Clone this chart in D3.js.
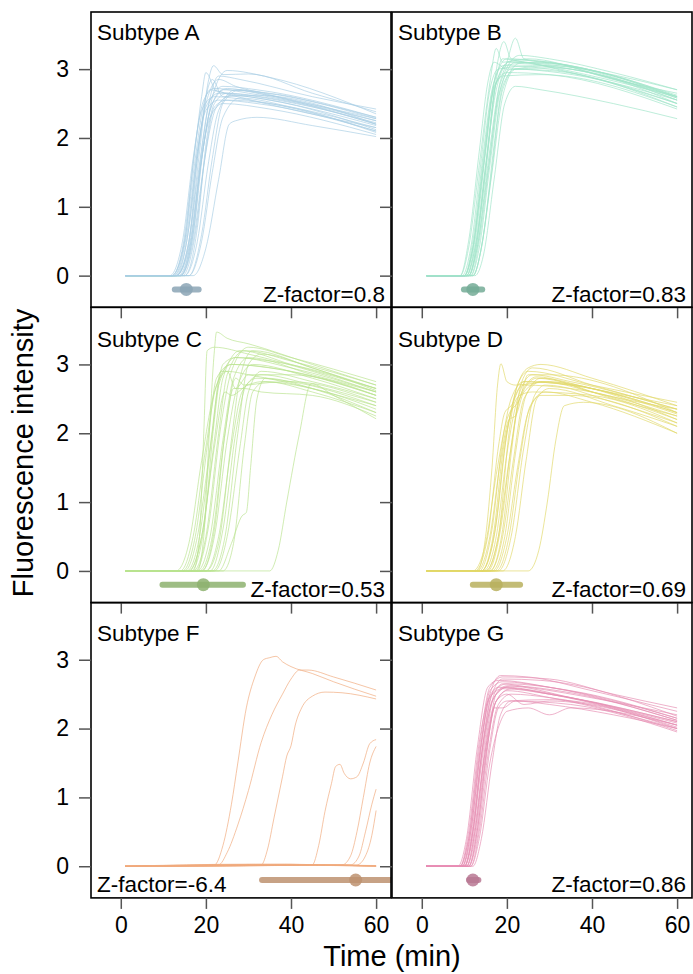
<!DOCTYPE html>
<html>
<head>
<meta charset="utf-8">
<script src="https://cdn.jsdelivr.net/npm/d3@7"></script>
<style>
  html, body { margin: 0; padding: 0; background: #fff; }
  svg { display: block; font-family: "Liberation Sans", Arial, sans-serif; }
</style>
</head>
<body>
<svg id="chart" width="693" height="974"></svg>
<script>
// ---------------- DATA ----------------
const subtypes = ["Subtype A", "Subtype B", "Subtype C", "Subtype D", "Subtype F", "Subtype G"];
const zFactors = ["Z-factor=0.8", "Z-factor=0.83", "Z-factor=0.53", "Z-factor=0.69", "Z-factor=-6.4", "Z-factor=0.86"];
const xTicks = [0, 20, 40, 60];
const yTicks = [0, 1, 2, 3];
const onsetMean = [15.4, 12.0, 19.4, 17.5, 55.2, 12.0];
const onsetLow  = [12.7,  9.9,  9.8, 12.0, 33.2, 11.1];
const onsetHigh = [18.3, 14.2, 28.7, 23.1, 75.0, 13.3];
const markerLevel = -0.2;

// curves: flat lists of (time, intensity) knots
const curvesA = [
  [1,0, 12,0, 14.5,0.4, 17,1.6, 19,2.6, 20,2.95, 22.5,2.68, 30,2.62, 45,2.45, 60,2.22],
  [1,0, 13,0, 16,0.5, 18.5,1.8, 20.5,2.8, 21.8,3.05, 24,2.92, 30,2.93, 45,2.65, 60,2.38],
  [1,0, 14,0, 17,0.6, 19.5,1.9, 22,2.7, 25,2.98, 35,2.88, 60,2.35],
  [1,0, 13,0, 16,0.5, 18,1.7, 20,2.5, 23,2.85, 27,2.75, 40,2.6, 60,2.3],
  [1,0, 12,0, 15,0.5, 17.5,1.9, 19.5,2.55, 22,2.72, 30,2.65, 60,2.25],
  [1,0, 12.5,0, 15.5,0.6, 18,1.8, 20,2.45, 23,2.65, 30,2.6, 60,2.18],
  [1,0, 13,0, 16,0.4, 18.5,1.5, 21,2.4, 24,2.7, 30,2.68, 60,2.28],
  [1,0, 14,0, 16.5,0.5, 19,1.7, 21.5,2.5, 25,2.72, 32,2.65, 60,2.2],
  [1,0, 14.5,0, 17.5,0.6, 20,1.8, 22.5,2.45, 26,2.62, 35,2.55, 60,2.12],
  [1,0, 11.5,0, 14.5,0.5, 17,1.7, 19,2.4, 22,2.6, 30,2.55, 60,2.1],
  [1,0, 15,0, 18,0.5, 20.5,1.6, 23,2.4, 27,2.7, 35,2.62, 60,2.25],
  [1,0, 16,0, 19,0.5, 21.5,1.5, 24,2.3, 28,2.58, 40,2.45, 60,2.15],
  [1,0, 17,0, 20,0.4, 23,1.4, 25.5,2.2, 27,2.25, 32,2.3, 45,2.18, 60,2.02],
  [1,0, 13.5,0, 16.5,0.5, 19,1.8, 21,2.55, 24,2.75, 32,2.7, 60,2.3],
  [1,0, 12,0, 15,0.5, 17.5,1.7, 19.5,2.5, 21,2.7, 26,2.62, 60,2.15],
  [1,0, 14,0, 17,0.5, 19.5,1.6, 22,2.45, 25,2.55, 35,2.5, 60,2.08],
  [1,0, 15,0, 18,0.7, 20,1.9, 22,2.5, 25,2.65, 35,2.58, 60,2.2],
  [1,0, 13,0, 15.5,0.3, 18,1.4, 20.5,2.45, 23,2.9, 28,2.85, 45,2.6, 60,2.42],
  [1,0, 12.5,0, 15.5,0.5, 18,1.7, 20,2.6, 21.5,2.85, 24,2.6, 32,2.62, 60,2.2],
  [1,0, 16,0, 19,0.6, 21.5,1.7, 24,2.5, 28,2.7, 40,2.55, 60,2.28],
  [1,0, 14,0, 17,0.6, 19,1.7, 21,2.3, 24,2.5, 35,2.42, 60,2.05],
  [1,0, 13,0, 16,0.7, 18,1.8, 20,2.4, 23,2.55, 32,2.5, 60,2.1]
];
const curvesB = [
  [1,0, 9,0, 11,0.4, 13.5,1.6, 16,2.8, 17.5,3.3, 19,3.1, 25,3.15, 40,2.95, 60,2.6],
  [1,0, 10,0, 12,0.4, 14.5,1.6, 17,2.8, 19.3,3.4, 21,3.15, 30,3.1, 60,2.55],
  [1,0, 11,0, 13,0.4, 15.5,1.6, 18,2.7, 20,3.1, 22,3.45, 24,3.15, 35,3.05, 60,2.6],
  [1,0, 10,0, 12,0.5, 14.5,1.8, 16.5,2.7, 19,3.05, 28,3.1, 45,2.85, 60,2.65],
  [1,0, 10.5,0, 12.5,0.4, 15,1.6, 17.5,2.7, 20,3.05, 30,3.0, 60,2.5],
  [1,0, 11,0, 13,0.4, 15.5,1.5, 18,2.6, 21,3.0, 30,2.98, 60,2.45],
  [1,0, 9.5,0, 11.5,0.4, 14,1.7, 16,2.7, 18,3.0, 26,3.05, 60,2.55],
  [1,0, 12,0, 14,0.4, 16.5,1.5, 19,2.6, 22,3.0, 30,3.05, 60,2.6],
  [1,0, 12.5,0, 14.5,0.3, 17,1.4, 19.5,2.5, 22,2.75, 28,2.7, 45,2.5, 60,2.28],
  [1,0, 11.5,0, 13.5,0.4, 16,1.6, 18.5,2.7, 22,3.1, 32,3.05, 60,2.7],
  [1,0, 10,0, 12,0.4, 14.5,1.7, 17,2.8, 20,3.15, 30,3.1, 60,2.62],
  [1,0, 11,0, 13,0.5, 15,1.6, 17.5,2.8, 21,3.12, 35,2.95, 60,2.5],
  [1,0, 12,0, 14,0.4, 16,1.3, 19,2.7, 23,3.08, 35,3.0, 60,2.58],
  [1,0, 10.5,0, 12.5,0.5, 15,1.8, 17,2.75, 20,2.95, 30,2.92, 60,2.42],
  [1,0, 9,0, 11,0.5, 13.5,1.8, 15.5,2.8, 17,3.1, 20,3.0, 30,3.02, 60,2.5],
  [1,0, 11.5,0, 13.5,0.5, 16,1.7, 18.5,2.8, 23,3.2, 30,3.15, 45,2.95, 60,2.7],
  [1,0, 10,0, 12,0.4, 14.5,1.6, 16.5,2.6, 19,2.9, 28,2.92, 60,2.45],
  [1,0, 12,0, 14.5,0.6, 17,1.9, 19,2.75, 22,3.0, 32,2.95, 60,2.55],
  [1,0, 10.5,0, 12.5,0.4, 15,1.5, 17.5,2.8, 20.5,3.1, 30,3.08, 60,2.58],
  [1,0, 11,0, 13,0.5, 15.5,1.8, 17.5,2.85, 19,3.15, 24,3.1, 60,2.6]
];
const curvesC = [
  [1,0, 17,0, 18.5,0.5, 19.5,2.0, 20.3,3.2, 22,3.25, 30,3.15, 45,2.9, 60,2.6],
  [1,0, 18,0, 19.5,0.5, 20.8,2.0, 22,3.2, 22.5,3.47, 25,3.38, 30,3.3, 45,3.0, 60,2.7],
  [1,0, 13,0, 16,0.4, 19,1.6, 22,2.6, 25,2.9, 30,2.85, 60,2.4],
  [1,0, 14,0, 17,0.5, 20,1.8, 22.5,2.7, 26,3.0, 35,2.95, 60,2.55],
  [1,0, 15,0, 18,0.5, 21,1.8, 23,2.7, 27,3.1, 35,3.05, 60,2.65],
  [1,0, 15.5,0, 18.5,0.5, 21.5,2.0, 23.5,2.9, 25,2.9, 27,2.65, 30,2.85, 40,2.85, 60,2.55],
  [1,0, 16,0, 19,0.5, 22,1.9, 24,2.8, 28,3.2, 40,3.0, 60,2.65],
  [1,0, 17,0, 20,0.5, 23,2.0, 25,2.85, 29,3.2, 40,3.05, 60,2.7],
  [1,0, 17.5,0, 20.5,0.6, 23.5,2.1, 26,2.9, 30,3.25, 40,3.1, 60,2.75],
  [1,0, 18,0, 21,0.5, 24,1.9, 26.5,2.8, 30,3.1, 45,2.85, 60,2.6],
  [1,0, 19,0, 22,0.5, 25,1.9, 27.5,2.7, 31,3.0, 45,2.8, 60,2.5],
  [1,0, 20,0, 23,0.5, 26,1.8, 28.5,2.6, 32,2.8, 40,2.75, 60,2.4],
  [1,0, 21,0, 24,0.6, 27,2.0, 29.5,2.7, 33,2.85, 45,2.7, 60,2.45],
  [1,0, 22,0, 25,0.5, 28,1.8, 30,2.6, 33,2.9, 45,2.75, 60,2.5],
  [1,0, 23,0, 26,0.4, 28.5,0.8, 29.5,0.85, 30.5,1.5, 32,2.5, 34,2.8, 45,2.65, 60,2.3],
  [1,0, 16,0, 19,0.5, 22,1.8, 24.5,2.6, 26,2.55, 30,2.7, 40,2.75, 60,2.45],
  [1,0, 18.5,0, 21.5,0.5, 24.5,2.0, 26.5,2.65, 29,2.65, 33,2.6, 45,2.55, 60,2.25],
  [1,0, 35,0, 37,0.3, 39,1.0, 42,2.0, 44.7,2.72, 50,2.55, 60,2.21],
  [1,0, 14.5,0, 17.5,0.5, 20.5,1.9, 22.5,2.8, 26,3.0, 40,2.9, 60,2.55],
  [1,0, 20,0, 23,0.4, 26,1.9, 28,2.8, 31,3.2, 45,2.95, 60,2.65],
  [1,0, 16.5,0, 19.5,0.6, 22,2.2, 24,3.0, 27,3.1, 40,2.95, 60,2.6],
  [1,0, 19,0, 22,0.6, 24.5,2.0, 27,2.8, 29,2.7, 33,2.75, 45,2.65, 60,2.35],
  [1,0, 21.5,0, 24.5,0.5, 27.5,2.0, 30,3.0, 33,3.15, 45,2.95, 60,2.62],
  [1,0, 24,0, 26.5,0.4, 29,1.8, 31,2.6, 34,2.75, 45,2.6, 60,2.3]
];
const curvesD = [
  [1,0, 13,0, 15,0.5, 16.5,1.5, 17.8,2.7, 18.6,3.01, 20,2.75, 22,2.7, 30,2.75, 45,2.5, 60,2.25],
  [1,0, 12,0, 15,0.4, 17.5,1.4, 20,2.2, 23,2.5, 25,2.85, 30,2.85, 60,2.3],
  [1,0, 13,0, 16,0.5, 18.5,1.6, 20.5,2.2, 22,2.25, 24,2.6, 28,2.75, 60,2.2],
  [1,0, 14,0, 17,0.5, 19.5,1.8, 22,2.6, 25,2.95, 28,3.0, 40,2.8, 60,2.4],
  [1,0, 14.5,0, 17.5,0.5, 20,1.7, 22.5,2.5, 26,2.85, 35,2.75, 60,2.35],
  [1,0, 15,0, 18,0.5, 20.5,1.6, 23,2.5, 27,2.8, 35,2.72, 60,2.28],
  [1,0, 15.5,0, 18.5,0.6, 21,1.8, 23.5,2.6, 27,2.82, 40,2.6, 60,2.35],
  [1,0, 13.5,0, 16.5,0.6, 19,1.9, 21,2.5, 24,2.75, 35,2.7, 60,2.3],
  [1,0, 16,0, 19,0.5, 21.5,1.6, 24,2.5, 28,2.75, 40,2.6, 60,2.2],
  [1,0, 16.5,0, 19.5,0.5, 22,1.7, 24.5,2.55, 28,2.8, 40,2.65, 60,2.4],
  [1,0, 17,0, 20,0.5, 22.5,1.5, 25,2.3, 28,2.55, 35,2.55, 60,2.1],
  [1,0, 17.5,0, 20.5,0.5, 23,1.6, 25.5,2.4, 29,2.6, 40,2.45, 60,2.0],
  [1,0, 18,0, 21,0.5, 24,1.8, 26.5,2.55, 29,2.7, 45,2.45, 60,2.15],
  [1,0, 25,0, 27.5,0.3, 29.5,1.0, 31.5,1.9, 33.5,2.4, 38,2.45, 60,2.0],
  [1,0, 14,0, 17,0.6, 19,1.7, 21,2.3, 23,2.55, 26,2.6, 40,2.55, 60,2.15],
  [1,0, 15,0, 18,0.5, 20.5,2.0, 22.5,2.7, 25,2.9, 40,2.7, 60,2.45],
  [1,0, 12.5,0, 15.5,0.5, 18,1.8, 19.5,2.3, 21,2.4, 24,2.75, 35,2.7, 60,2.3],
  [1,0, 16,0, 19,0.6, 21,1.7, 23.5,2.75, 26,2.95, 40,2.7, 60,2.35],
  [1,0, 19,0, 22,0.5, 24.5,1.6, 27,2.5, 30,2.65, 45,2.4, 60,2.1],
  [1,0, 14,0, 17.5,0.7, 20,2.0, 22,2.55, 24,2.7, 35,2.65, 60,2.25]
];
const curvesF = [
  [1,0, 22,0.02, 24,0.3, 26,0.9, 27.5,1.5, 29.5,2.3, 31.5,2.75, 33.5,3.0, 35,3.03, 36.5,3.05, 38,2.97, 40,2.9, 45,2.8, 50,2.68, 60,2.47],
  [1,0, 23,0.02, 25,0.2, 27.5,0.6, 30,1.1, 33,1.8, 35.5,2.2, 38,2.5, 40,2.72, 42,2.85, 44,2.85, 50,2.75, 60,2.56],
  [1,0, 33,0.02, 34.5,0.25, 36,0.7, 38,1.3, 39,1.6, 40,1.75, 41,2.05, 42.5,2.3, 45,2.47, 48,2.53, 52,2.52, 60,2.43],
  [1,0, 45,0.02, 46.5,0.3, 48,0.8, 49.5,1.2, 50.5,1.45, 51.5,1.48, 52.5,1.35, 54,1.27, 55.5,1.3, 57,1.5, 58.5,1.78, 60,1.84],
  [1,0, 52,0.02, 54,0.15, 55.5,0.5, 57,1.0, 58.5,1.5, 60,1.74],
  [1,0, 54,0.02, 56,0.15, 57.5,0.5, 59,0.9, 60,1.12],
  [1,0, 55.5,0.02, 57.5,0.15, 59,0.45, 60,0.81],
  [1,0, 20,0.01, 35,0.02, 50,0.01, 60,0],
  [1,0, 22,0.02, 40,0.03, 55,0.01, 60,0.01],
  [1,0, 18,0.01, 30,0.02, 45,0.02, 60,0],
  [1,0, 25,0.02, 42,0.02, 60,0.01],
  [1,0, 20,0.0, 38,0.02, 60,0],
  [1,0, 30,0.03, 48,0.02, 60,0]
];
const curvesG = [
  [1,0, 9,0, 11,0.4, 13.5,1.6, 16,2.5, 18.5,2.77, 25,2.75, 40,2.55, 60,2.25],
  [1,0, 9.5,0, 11.5,0.4, 14,1.6, 16.5,2.5, 19,2.72, 28,2.7, 60,2.18],
  [1,0, 10,0, 12,0.5, 14.5,1.8, 17,2.45, 20,2.6, 30,2.5, 60,2.05],
  [1,0, 10.5,0, 12.5,0.5, 15,1.7, 17.5,2.4, 20,2.55, 30,2.45, 60,2.0],
  [1,0, 11,0, 13,0.4, 15.5,1.6, 18,2.35, 21,2.5, 30,2.45, 60,1.97],
  [1,0, 9,0, 11,0.5, 13.5,1.8, 15.5,2.4, 18,2.6, 30,2.5, 60,2.1],
  [1,0, 10,0, 12,0.4, 14.5,1.5, 17,2.3, 19,2.3, 22,2.4, 30,2.35, 45,2.2, 60,2.0],
  [1,0, 11.5,0, 13.5,0.4, 16,1.5, 18.5,2.1, 20,2.25, 25,2.3, 30,2.2, 35,2.3, 60,2.05],
  [1,0, 9.5,0, 11.5,0.5, 14,1.8, 16,2.55, 19,2.68, 30,2.6, 60,2.15],
  [1,0, 10,0, 12,0.5, 14.5,1.7, 16.5,2.4, 20,2.62, 35,2.45, 60,2.08],
  [1,0, 10.5,0, 12.5,0.4, 15,1.6, 17.5,2.4, 21,2.58, 35,2.45, 60,2.1],
  [1,0, 8.5,0, 10.5,0.4, 13,1.7, 15.5,2.6, 18,2.7, 30,2.6, 60,2.12],
  [1,0, 11,0, 13,0.5, 15.5,1.8, 17.5,2.4, 20,2.5, 24,2.35, 30,2.4, 60,2.02],
  [1,0, 12,0, 14,0.4, 16.5,1.5, 18.5,2.2, 21,2.4, 35,2.35, 60,1.95],
  [1,0, 9,0, 11,0.4, 13.5,1.7, 16,2.6, 19,2.75, 30,2.72, 45,2.5, 60,2.3],
  [1,0, 10,0, 12,0.5, 14,1.6, 16.5,2.5, 20,2.65, 35,2.55, 60,2.15],
  [1,0, 11,0, 13,0.5, 15,1.5, 17.5,2.5, 21,2.62, 32,2.55, 60,2.12],
  [1,0, 9.5,0, 11.5,0.5, 13.5,1.5, 16,2.45, 19,2.58, 30,2.5, 60,2.05],
  [1,0, 10.5,0, 12.5,0.5, 15,1.8, 17,2.5, 19,2.65, 25,2.6, 60,2.2],
  [1,0, 11.5,0, 13.5,0.5, 16,1.7, 18,2.3, 20,2.4, 30,2.42, 60,2.0]
];
const allCurves = [curvesA, curvesB, curvesC, curvesD, curvesF, curvesG];

// ---------------- STYLE ----------------
const lineColors = ["#a9cfe4", "#9fe4c9", "#b9e38f", "#e2d96a", "#f0aa7c", "#e68db2"];
const markerColors = ["#8ba5b5", "#74ab97", "#8db16e", "#b8b05e", "#bd9270", "#b87893"];

const svg = d3.select("#chart");
const colX = [91, 392];
const panelW = 300;
const rowY = [12, 307.3, 602.6];
const rowH = 295.3;
const titleBase = [40, 346.5, 641];
const FONT = '"Liberation Sans", Arial, sans-serif';

const line = d3.line().curve(d3.curveMonotoneX);

allCurves.forEach((curves, i) => {
  const c = i % 2, r = Math.floor(i / 2);
  const x0 = colX[c], y0 = rowY[r];
  const x = d3.scaleLinear().domain([-7, 63.5]).range([x0, x0 + panelW]);
  const y = d3.scaleLinear().domain([-0.46, 3.83]).range([y0 + rowH, y0]);

  const clipId = "clip" + i;
  svg.append("clipPath").attr("id", clipId)
    .append("rect").attr("x", x0).attr("y", y0).attr("width", panelW).attr("height", rowH);

  const g = svg.append("g").attr("clip-path", `url(#${clipId})`);

  curves.forEach(flat => {
    const pts = [];
    for (let k = 0; k < flat.length; k += 2) pts.push([x(flat[k]), y(flat[k + 1])]);
    g.append("path").attr("d", line(pts))
      .attr("fill", "none")
      .attr("stroke", lineColors[i])
      .attr("stroke-width", 1)
      .attr("stroke-opacity", 0.68);
  });

  // onset marker (range bar + mean dot)
  g.append("line")
    .attr("x1", x(onsetLow[i])).attr("x2", x(onsetHigh[i]))
    .attr("y1", y(markerLevel)).attr("y2", y(markerLevel))
    .attr("stroke", markerColors[i]).attr("stroke-width", 6)
    .attr("stroke-linecap", "round").attr("stroke-opacity", 0.85);
  g.append("circle")
    .attr("cx", x(onsetMean[i])).attr("cy", y(markerLevel)).attr("r", 6.5)
    .attr("fill", markerColors[i]).attr("fill-opacity", 0.85);

  // frame
  svg.append("rect").attr("x", x0).attr("y", y0).attr("width", panelW).attr("height", rowH)
    .attr("fill", "none").attr("stroke", "#000").attr("stroke-width", 1.6);

  // y axis
  const yAxis = d3.axisLeft(y).tickValues(yTicks).tickSize(12).tickPadding(10)
    .tickFormat(c === 0 ? d3.format("d") : () => "");
  const ya = svg.append("g").attr("transform", `translate(${x0},0)`).call(yAxis);
  ya.select(".domain").remove();
  ya.selectAll(".tick line").attr("stroke", "#555").attr("stroke-width", 1.5);
  ya.selectAll(".tick text").attr("font-size", 23).attr("font-family", FONT).attr("fill", "#000");

  // x axis
  const xAxis = d3.axisBottom(x).tickValues(xTicks).tickSize(11).tickPadding(8)
    .tickFormat(r === 2 ? d3.format("d") : () => "");
  const xa = svg.append("g").attr("transform", `translate(0,${y0 + rowH})`).call(xAxis);
  xa.select(".domain").remove();
  xa.selectAll(".tick line").attr("stroke", "#555").attr("stroke-width", 1.5);
  xa.selectAll(".tick text").attr("font-size", 23).attr("font-family", FONT).attr("fill", "#000");

  // titles
  svg.append("text").attr("x", x0 + 6).attr("y", titleBase[r])
    .attr("font-size", 22.5).attr("font-family", FONT).attr("fill", "#000")
    .text(subtypes[i]);

  const zLeft = (i === 4);
  svg.append("text")
    .attr("x", zLeft ? x0 + 6 : x0 + panelW - 6)
    .attr("y", y0 + rowH - 5.5)
    .attr("text-anchor", zLeft ? "start" : "end")
    .attr("font-size", 22.5).attr("font-family", FONT).attr("fill", "#000")
    .text(zFactors[i]);
});

svg.append("text")
  .attr("transform", "translate(33,453) rotate(-90)")
  .attr("text-anchor", "middle")
  .attr("font-size", 29).attr("font-family", FONT).attr("fill", "#000")
  .text("Fluorescence intensity");

svg.append("text")
  .attr("x", 392).attr("y", 966)
  .attr("text-anchor", "middle")
  .attr("font-size", 29).attr("font-family", FONT).attr("fill", "#000")
  .text("Time (min)");
</script>
</body>
</html>
